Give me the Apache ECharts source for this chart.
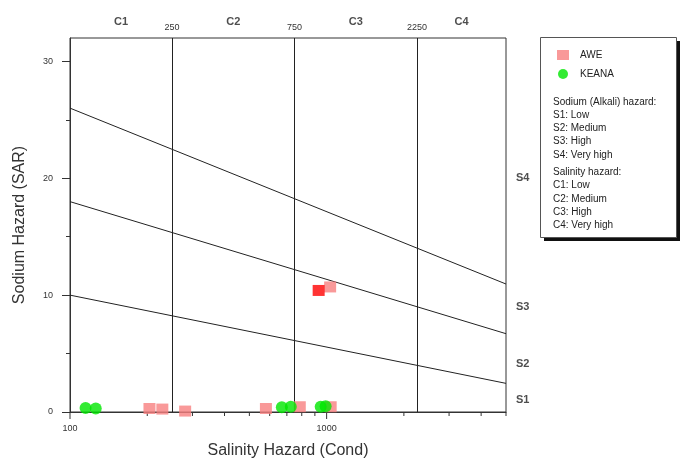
<!DOCTYPE html>
<html><head><meta charset="utf-8">
<script src="https://cdn.jsdelivr.net/npm/echarts@6/dist/echarts.min.js"></script>
<style>html,body{margin:0;padding:0;background:#fff}#c{width:680px;height:464px}</style>
</head><body><div id="c"></div>
<script>
// ---- data ----
const awePoints = [[204,0.3],[229,0.25],[281,0.08],[580,0.3],[786,0.45],[1037,0.45],[1032,10.7]];
const aweHighlight = [[931,10.4]];
const keanaPoints = [[115,0.35],[126,0.3],[669,0.4],[725,0.45],[948,0.45],[991,0.5]];
const salinityBounds = [250, 750, 2250];
const salinityClasses = ['C1','C2','C3','C4'];
const salinityClassPos = [158, 433, 1299, 3354];
const sodiumLineA = [[100,26.0],[5000,10.95]];
const sodiumLineB = [[100,18.0],[5000,6.7]];
const sodiumLineC = [[100,10.0],[5000,2.45]];
const sodiumClasses = ['S1','S2','S3','S4'];
const sodiumClassPos = [1.0, 4.1, 9.0, 20.0];
const xMajorTicks = [100, 1000];
const xMinorTicks = [200,300,400,500,600,700,800,900,2000,3000,4000,5000];
const yMajorTicks = [0,10,20,30];
const yMinorTicks = [5,15,25];
const legendSodium = ['Sodium (Alkali) hazard:','S1: Low','S2: Medium','S3: High','S4: Very high'];
const legendSalinity = ['Salinity hazard:','C1: Low','C2: Medium','C3: High','C4: Very high'];

const FONT = '"Liberation Sans", Arial, sans-serif';
const chart = echarts.init(document.getElementById('c'));

function tickSeries(values, len) {
  return {
    type: 'custom', silent: true, clip: false, z: 3,
    data: values.map(v => [v, 0]),
    renderItem: (params, api) => {
      const p = api.coord([api.value(0), 0]);
      return { type: 'line', shape: { x1: p[0], y1: p[1], x2: p[0], y2: p[1] + len },
               style: { stroke: '#333', lineWidth: 1 } };
    }
  };
}
function lineSeries(data) {
  return { type: 'line', data: data, symbol: 'none', silent: true, z: 2,
           lineStyle: { color: '#222', width: 1 } };
}

const gtexts = [];
legendSodium.forEach((t, i) => gtexts.push({ type: 'text', x: 553, y: 102 + i * 13.2, z: 10,
  style: { text: t, font: '10px ' + FONT, fill: '#222', verticalAlign: 'middle' } }));
legendSalinity.forEach((t, i) => gtexts.push({ type: 'text', x: 553, y: 172 + i * 13.4, z: 10,
  style: { text: t, font: '10px ' + FONT, fill: '#222', verticalAlign: 'middle' } }));

chart.setOption({
  animation: false,
  textStyle: { fontFamily: FONT },
  grid: { left: 70, right: 174, top: 38, bottom: 49, show: true, borderColor: '#333', borderWidth: 1 },
  xAxis: {
    type: 'log', logBase: 10, min: 100, max: 5000,
    name: 'Salinity Hazard (Cond)', nameLocation: 'middle', nameGap: 31,
    nameTextStyle: { fontSize: 16, color: '#333', fontFamily: FONT },
    axisLine: { lineStyle: { color: '#333' } },
    axisTick: { show: false },
    splitLine: { show: false },
    axisLabel: { fontSize: 9, color: '#333', margin: 12, showMaxLabel: false,
      formatter: v => (xMajorTicks.indexOf(Math.round(v)) >= 0 ? String(Math.round(v)) : '') }
  },
  yAxis: [{
    type: 'value', min: 0, max: 32,
    name: 'Sodium Hazard (SAR)', nameLocation: 'middle', nameGap: 42,
    nameTextStyle: { fontSize: 16, color: '#333', fontFamily: FONT },
    axisLine: { show: true, lineStyle: { color: '#333' } },
    axisTick: { show: true, length: 8, customValues: yMajorTicks, lineStyle: { color: '#333' } },
    axisLabel: { fontSize: 9, color: '#333', margin: 17, customValues: yMajorTicks },
    splitLine: { show: false }
  }, {
    type: 'value', min: 0, max: 32, position: 'left',
    axisLine: { show: false },
    axisTick: { show: true, length: 4, customValues: yMinorTicks, lineStyle: { color: '#333' } },
    axisLabel: { show: false },
    splitLine: { show: false }
  }],
  legend: {
    data: ['AWE', 'KEANA'], orient: 'vertical', left: 552, top: 45,
    itemWidth: 12, itemHeight: 10, itemGap: 9, z: 12,
    textStyle: { fontSize: 10, color: '#222', fontFamily: FONT, padding: [0, 0, 0, 6] }
  },
  graphic: [
    { type: 'rect', x: 544, y: 41, z: 8, shape: { width: 136, height: 200 },
      style: { fill: '#111' } },
    { type: 'rect', x: 540.5, y: 37.5, z: 9, shape: { width: 136, height: 200 },
      style: { fill: '#fff', stroke: '#555', lineWidth: 1 } }
  ].concat(gtexts),
  series: [
    lineSeries(sodiumLineA), lineSeries(sodiumLineB), lineSeries(sodiumLineC),
    { type: 'line', data: [], symbol: 'none', silent: true,
      markLine: { silent: true, symbol: 'none', lineStyle: { color: '#222', width: 1, type: 'solid' },
        label: { show: true, position: 'end', distance: 6, fontSize: 9, color: '#333', formatter: p => String(p.value) },
        data: salinityBounds.map(v => ({ xAxis: v })) } },
    tickSeries(xMajorTicks, 7),
    tickSeries(xMinorTicks, 4),
    { type: 'scatter', silent: true, symbolSize: 0, z: 4,
      data: salinityClassPos.map((v, i) => ({ value: [v, 32], name: salinityClasses[i] })),
      label: { show: true, position: 'top', distance: 11, fontSize: 11, fontWeight: 'bold', color: '#222', formatter: p => p.name } },
    { type: 'scatter', silent: true, symbolSize: 0, z: 4, clip: false,
      data: sodiumClassPos.map((v, i) => ({ value: [5000, v], name: sodiumClasses[i] })),
      label: { show: true, position: 'right', distance: 10, fontSize: 11, fontWeight: 'bold', color: '#222', formatter: p => p.name } },
    { name: 'AWE', type: 'scatter', symbol: 'rect', symbolSize: [12, 11], z: 5, clip: false,
      itemStyle: { color: '#f77f7f' }, data: awePoints },
    { name: 'AWE highlight', type: 'scatter', symbol: 'rect', symbolSize: [12, 11], z: 5,
      itemStyle: { color: '#ff0000' }, data: aweHighlight },
    { name: 'KEANA', type: 'scatter', symbol: 'circle', symbolSize: 12, z: 6, clip: false,
      itemStyle: { color: '#00e600' }, data: keanaPoints }
  ]
});
</script>
</body></html>
